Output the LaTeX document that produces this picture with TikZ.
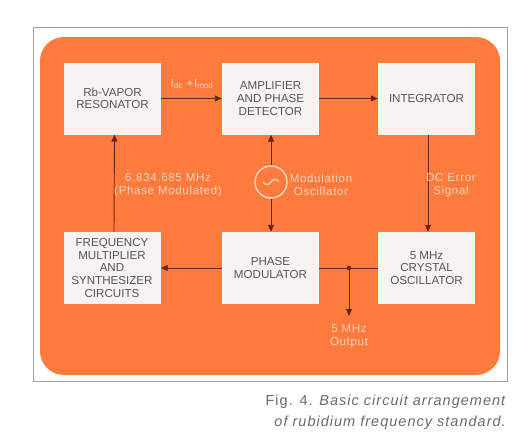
\documentclass[tikz,border=0pt]{standalone}
\usepackage{fontspec}
\setmainfont{Liberation Sans}
\usetikzlibrary{arrows.meta}
\definecolor{orng}{HTML}{FF7B3D}
\definecolor{boxc}{HTML}{F5F4F0}
\definecolor{linec}{HTML}{6B2412}
\definecolor{lblc}{HTML}{FFD3BC}
\definecolor{boxtext}{HTML}{5A5452}
\definecolor{framec}{HTML}{A0A0A0}
\definecolor{capc}{HTML}{6A6A6A}
\tikzset{
  blk/.style={fill=boxc, minimum width=97pt, minimum height=72pt, align=center,
    font=\fontsize{11.6}{12.6}\selectfont, text=boxtext, inner sep=0pt},
  conn/.style={draw=linec, line width=0.9pt},
  arr/.style={conn, -{Triangle[length=7pt,width=6pt]}},
  lbl/.style={text=lblc, align=center, font=\fontsize{11.5}{12.8}\selectfont\addfontfeatures{LetterSpace=6}, inner sep=0pt}
}
\begin{document}
\begin{tikzpicture}[x=1pt,y=-1pt]
\useasboundingbox (0,0) rectangle (526,447);
\fill[white] (0,0) rectangle (526,447);
\draw[framec, line width=0.7pt] (33,27) rectangle (507,381);
\fill[orng, rounded corners=24pt] (40,37) rectangle (500,375);

\node[blk] (rb) at (112.5,98.5) {Rb-VAPOR\\RESONATOR};
\node[blk] (amp) at (270.5,98.5) {AMPLIFIER\\AND PHASE\\DETECTOR};
\node[blk] (int) at (426.5,98.5) {INTEGRATOR};
\node[blk] (fm) at (112,268) {FREQUENCY\\MULTIPLIER\\AND\\SYNTHESIZER\\CIRCUITS};
\node[blk] (pm) at (270.5,268) {PHASE\\MODULATOR};
\node[blk] (xo) at (426.5,268) {5 MHz\\CRYSTAL\\OSCILLATOR};

\node[draw=lblc, line width=1.5pt, circle, minimum size=32pt, inner sep=0pt] (osc) at (271,182) {};
\draw[lblc, line width=1.3pt] plot[domain=-8:8, samples=30, smooth] ({271+\x},{182-2.6*sin(\x*180/8)});

\coordinate (j) at (349,268);
\coordinate (out) at (349,316);

\draw[arr] (rb.east) -- (amp.west);
\draw[arr] (amp.east) -- (int.west);
\draw[arr] ([xshift=1.5pt]int.south) -- ([xshift=1.5pt]xo.north);
\draw[conn] (xo.west) -- (pm.east);
\fill[linec] (j) circle (2.3pt);
\draw[arr] (j) -- (out);
\draw[arr] (pm.west) -- (fm.east);
\draw[arr] ([xshift=2pt]fm.north) -- ([xshift=2pt]rb.south);
\draw[arr] (osc.north) -- (osc.north |- amp.south);
\draw[arr] (osc.south) -- (osc.south |- pm.north);

\node[lbl] (l1) at (192,84) {I$_{\mathrm{dc}}$ +I$_{\mathrm{mod}}$};
\node[lbl] (l2) at (168,185) {6,834.685 MHz\\(Phase Modulated)};
\node[lbl] (l3) at (321,185) {Modulation\\Oscillator};
\node[lbl] (l4) at (451,185) {DC Error\\Signal};
\node[lbl] (l5) at (349,336) {5 MHz\\Output};

\node[anchor=north east, align=right, text=capc, inner sep=0pt,
  font=\fontsize{14.5}{21}\selectfont\addfontfeatures{LetterSpace=7}] (cap) at (507,395)
  {Fig. 4. \textit{Basic circuit arrangement}\\\textit{of rubidium frequency standard.}};
\end{tikzpicture}
\end{document}
